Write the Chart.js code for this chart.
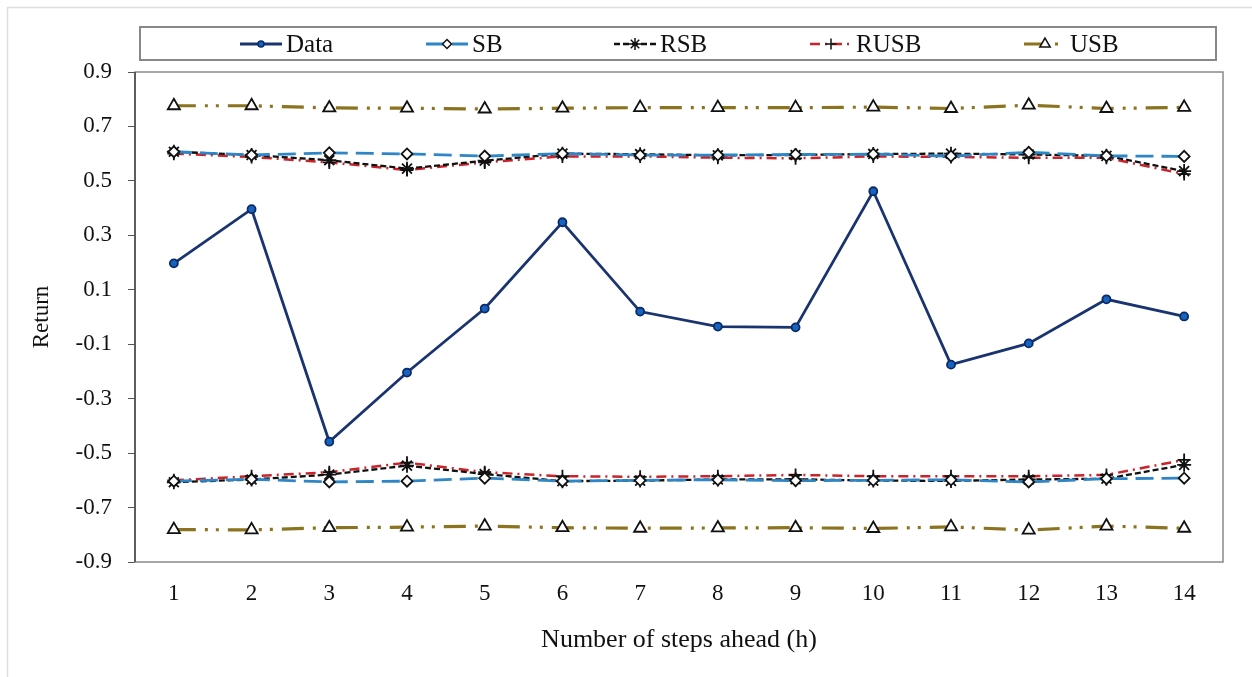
<!DOCTYPE html>
<html>
<head>
<meta charset="utf-8">
<script src="https://cdn.jsdelivr.net/npm/chart.js@4"></script>
<style>
  html, body { margin: 0; padding: 0; background: #fff; }
  #wrap { width: 1252px; height: 677px; }
</style>
</head>
<body>
<div id="wrap"><canvas id="myChart" width="1252" height="677"></canvas></div>
<script>
// steps ahead
var steps = ["1","2","3","4","5","6","7","8","9","10","11","12","13","14"];

// observed returns
var dataReturn = [0.197, 0.396, -0.458, -0.204, 0.031, 0.348, 0.020, -0.035, -0.038, 0.462, -0.175, -0.097, 0.065, 0.002];

// bounds, upper and lower
var sbUpper   = [0.607, 0.595, 0.603, 0.599, 0.591, 0.600, 0.595, 0.595, 0.597, 0.598, 0.591, 0.605, 0.592, 0.590];
var sbLower   = [-0.603, -0.596, -0.606, -0.603, -0.592, -0.603, -0.600, -0.598, -0.601, -0.600, -0.598, -0.606, -0.594, -0.592];
var rsbUpper  = [0.607, 0.595, 0.576, 0.545, 0.574, 0.600, 0.598, 0.594, 0.595, 0.599, 0.600, 0.597, 0.592, 0.536];
var rsbLower  = [-0.607, -0.597, -0.579, -0.546, -0.577, -0.603, -0.601, -0.597, -0.596, -0.601, -0.602, -0.597, -0.594, -0.543];
var rusbUpper = [0.600, 0.588, 0.568, 0.540, 0.568, 0.590, 0.590, 0.585, 0.583, 0.590, 0.588, 0.585, 0.585, 0.525];
var rusbLower = [-0.600, -0.585, -0.570, -0.535, -0.570, -0.585, -0.587, -0.585, -0.580, -0.585, -0.585, -0.585, -0.580, -0.525];
var usbUpper  = [0.776, 0.776, 0.768, 0.767, 0.764, 0.767, 0.769, 0.769, 0.769, 0.771, 0.766, 0.778, 0.766, 0.770];
var usbLower  = [-0.781, -0.782, -0.774, -0.772, -0.768, -0.774, -0.776, -0.775, -0.774, -0.777, -0.771, -0.783, -0.768, -0.776];

var yTicks = [-0.9, -0.7, -0.5, -0.3, -0.1, 0.1, 0.3, 0.5, 0.7, 0.9];

var serif = "'Liberation Serif', 'Times New Roman', serif";

// line looks per method
var looks = {
  Data: { color: '#1a3470', width: 2.8, dash: [], point: 'circle', radius: 4, fill: '#1565c0', edge: '#0d2a66' },
  SB:   { color: '#2f86c6', width: 2.8, dash: [18, 8], point: 'rectRot', radius: 5.5, fill: '#ffffff', edge: '#111' },
  RSB:  { color: '#111111', width: 2.3, dash: [6, 3], point: 'star', radius: 7, fill: '#111', edge: '#111' },
  RUSB: { color: '#cc2229', width: 2.5, dash: [10, 5, 2, 5], point: 'cross', radius: 6.5, fill: '#111', edge: '#111' },
  USB:  { color: '#8b7320', width: 3.2, dash: [22, 9, 3, 8, 3, 9], point: 'triangle', radius: 7, fill: '#ffffff', edge: '#111' }
};

function makeSet(name, values, inLegend) {
  var s = looks[name];
  return {
    label: name,
    data: values,
    inLegend: inLegend,
    borderColor: s.color,
    borderWidth: s.width,
    borderDash: s.dash,
    pointStyle: s.point,
    pointRadius: s.radius,
    pointBackgroundColor: s.fill,
    pointBorderColor: s.edge,
    pointBorderWidth: 1.8,
    fill: false,
    tension: 0
  };
}

// box legend with line + marker samples
var boxLegend = {
  id: 'boxLegend',
  afterDraw: function(chart) {
    var ctx = chart.ctx;
    ctx.save();
    // outer frame of the figure
    ctx.strokeStyle = '#dddddd';
    ctx.lineWidth = 1.5;
    ctx.strokeRect(7.5, 7.5, 1260, 700);
    // plot frame
    var a = chart.chartArea;
    ctx.strokeStyle = '#8a8a8a';
    ctx.lineWidth = 1.5;
    ctx.strokeRect(a.left, a.top, a.right - a.left, a.bottom - a.top);
    ctx.strokeStyle = '#444';
    ctx.beginPath(); ctx.moveTo(a.left, a.top); ctx.lineTo(a.left, a.bottom); ctx.stroke();
    // legend box
    ctx.strokeStyle = '#888';
    ctx.lineWidth = 2;
    ctx.strokeRect(140, 27, 1076, 33);
    var starts = [240, 426, 614, 810, 1024];
    var yMid = 44;
    ctx.font = '25px ' + serif;
    ctx.textBaseline = 'middle';
    ctx.fillStyle = '#111';
    var k = 0;
    chart.data.datasets.forEach(function(ds) {
      if (!ds.inLegend) return;
      var x0 = starts[k++];
      ctx.strokeStyle = ds.borderColor;
      ctx.lineWidth = ds.borderWidth;
      ctx.setLineDash(ds.borderDash);
      ctx.beginPath(); ctx.moveTo(x0, yMid); ctx.lineTo(x0 + 42, yMid); ctx.stroke();
      ctx.setLineDash([]);
      ctx.fillStyle = ds.pointBackgroundColor;
      ctx.strokeStyle = ds.pointBorderColor;
      ctx.lineWidth = 1.5;
      Chart.helpers.drawPoint(ctx, { pointStyle: ds.pointStyle, radius: ds.pointRadius - 1, borderWidth: 1.5, rotation: 0 }, x0 + 21, yMid);
      ctx.fillStyle = '#111';
      ctx.fillText(ds.label, x0 + 46, yMid + 1);
    });
    ctx.restore();
  }
};

var ctx = document.getElementById('myChart').getContext('2d');
var chart = new Chart(ctx, {
  type: 'line',
  data: {
    labels: steps,
    datasets: [
      makeSet('Data', dataReturn, true),
      makeSet('SB', sbUpper, true),
      makeSet('RSB', rsbUpper, true),
      makeSet('RUSB', rusbUpper, true),
      makeSet('USB', usbUpper, true),
      makeSet('SB', sbLower, false),
      makeSet('RSB', rsbLower, false),
      makeSet('RUSB', rusbLower, false),
      makeSet('USB', usbLower, false)
    ]
  },
  options: {
    responsive: false,
    animation: false,
    layout: { padding: { left: 8, top: 72, right: 29, bottom: 0 } },
    plugins: {
      legend: { display: false },
      tooltip: { enabled: false }
    },
    scales: {
      x: {
        offset: true,
        grid: { display: false, drawTicks: false },
        border: { display: false },
        ticks: { color: '#111', font: { family: serif, size: 23 }, padding: 18 },
        title: { display: true, text: 'Number of steps ahead (h)', color: '#111', font: { family: serif, size: 26 }, padding: { top: 0, bottom: 21 } },
        afterFit: function(scale) { scale.height = 115; }
      },
      y: {
        min: -0.9,
        max: 0.9,
        afterBuildTicks: function(scale) { scale.ticks = yTicks.map(function(v) { return { value: v }; }); },
        grid: { drawOnChartArea: false, drawTicks: true, tickLength: 7, color: '#555' },
        border: { display: false },
        ticks: { color: '#111', font: { family: serif, size: 23 }, padding: 16,
          callback: function(v) { return Number(v).toFixed(1); } },
        title: { display: true, text: 'Return', color: '#111', font: { family: serif, size: 23 }, padding: { top: 20, bottom: 0 } },
        afterFit: function(scale) { scale.width = 127; }
      }
    }
  },
  plugins: [boxLegend]
});
</script>
</body>
</html>
